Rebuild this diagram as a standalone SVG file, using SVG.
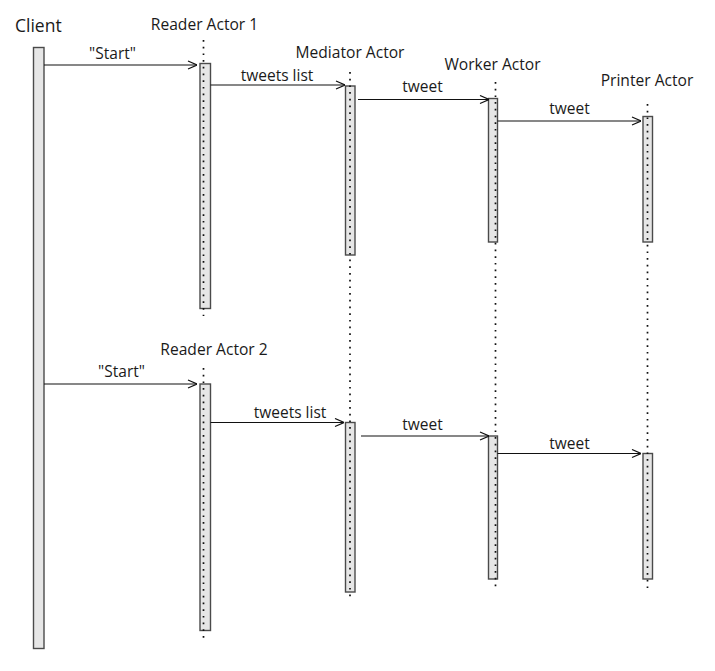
<svg xmlns="http://www.w3.org/2000/svg" width="715" height="671" viewBox="0 0 715 671">
  <defs>
    <style>
      text { font-family: "Open Sans", "Noto Sans", "DejaVu Sans", sans-serif; fill: #1a1a1a; }
      .title { font-size: 15.6px; text-anchor: middle; }
      .client { font-size: 17.5px; }
      .msg { font-size: 15.5px; text-anchor: middle; }
      .bar { fill: #e6e6e6; stroke: #4a4a4a; stroke-width: 1.4; }
      .life { stroke: #111; stroke-width: 1.7; stroke-dasharray: 1.7 5; fill: none; }
      .arrow { stroke: #111; stroke-width: 1.1; fill: none; marker-end: url(#head); }
    </style>
    <marker id="head" viewBox="0 0 10 10" refX="10" refY="5" markerWidth="10" markerHeight="10" markerUnits="userSpaceOnUse" orient="auto">
      <path d="M1,1 L10,5 L1,9" fill="none" stroke="#111" stroke-width="1.2"/>
    </marker>
  </defs>
  <rect width="715" height="671" fill="#ffffff"/>

  <g id="client">
    <text class="client" x="15" y="32">Client</text>
    <rect class="bar" x="33.5" y="47.5" width="10.5" height="601"/>
  </g>

  <g id="reader1">
    <text class="title" x="204.5" y="29.5">Reader Actor 1</text>
    <rect class="bar" x="200" y="63.5" width="10.5" height="245"/>
    <line class="life" x1="203.5" y1="40" x2="203.5" y2="316"/>
  </g>

  <g id="reader2">
    <text class="title" x="214" y="355">Reader Actor 2</text>
    <rect class="bar" x="200" y="384" width="10.5" height="246.5"/>
    <line class="life" x1="203.5" y1="368" x2="203.5" y2="638"/>
  </g>

  <g id="mediator">
    <text class="title" x="350" y="57.5">Mediator Actor</text>
    <rect class="bar" x="345.5" y="86" width="9.5" height="169"/>
    <rect class="bar" x="345.5" y="422.5" width="9.5" height="169.5"/>
    <line class="life" x1="350" y1="72" x2="350" y2="600"/>
  </g>

  <g id="worker">
    <text class="title" x="492.5" y="69.5">Worker Actor</text>
    <rect class="bar" x="488.5" y="98.5" width="9" height="143.5"/>
    <rect class="bar" x="488.5" y="436" width="9" height="143"/>
    <line class="life" x1="495.5" y1="82" x2="495.5" y2="589"/>
  </g>

  <g id="printer">
    <text class="title" x="647" y="86">Printer Actor</text>
    <rect class="bar" x="643" y="116.5" width="9.5" height="125.5"/>
    <rect class="bar" x="643" y="453.5" width="9.5" height="125.5"/>
    <line class="life" x1="647.5" y1="104" x2="647.5" y2="591"/>
  </g>

  <g id="connectors">
    <line class="arrow" x1="44" y1="65" x2="197" y2="65"/>
    <text class="msg" x="112.5" y="58.5">"Start"</text>

    <line class="arrow" x1="210.5" y1="85" x2="345" y2="85"/>
    <text class="msg" x="277" y="80.5">tweets list</text>

    <line class="arrow" x1="358" y1="99.5" x2="489" y2="99.5"/>
    <text class="msg" x="422.5" y="91.5">tweet</text>

    <line class="arrow" x1="497.5" y1="121" x2="641" y2="121"/>
    <text class="msg" x="569.5" y="113.5">tweet</text>

    <line class="arrow" x1="44" y1="384" x2="197" y2="384"/>
    <text class="msg" x="121.5" y="376.5">"Start"</text>

    <line class="arrow" x1="210.5" y1="422.5" x2="344" y2="422.5"/>
    <text class="msg" x="290" y="417.5">tweets list</text>

    <line class="arrow" x1="361" y1="436" x2="489" y2="436"/>
    <text class="msg" x="422.5" y="430">tweet</text>

    <line class="arrow" x1="497.5" y1="453.5" x2="641" y2="453.5"/>
    <text class="msg" x="569.5" y="448.5">tweet</text>
  </g>
</svg>
